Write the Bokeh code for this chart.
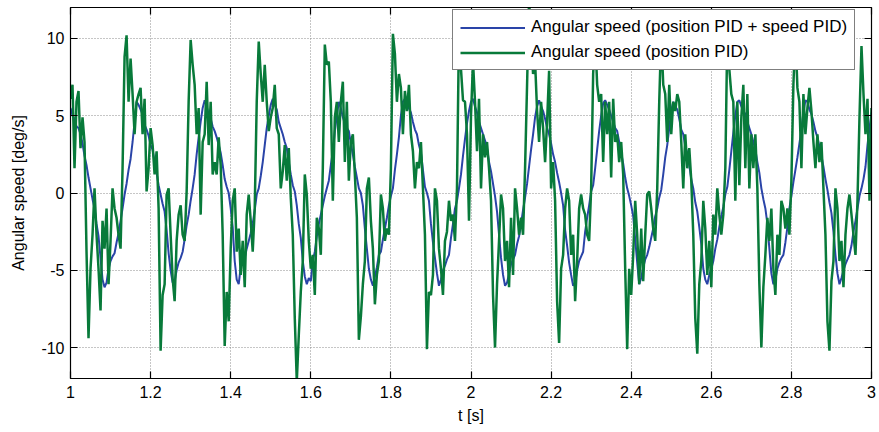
from bokeh.plotting import figure
from bokeh.models import (ColumnDataSource, FixedTicker, LinearAxis, Range1d,
                          Legend, LegendItem)
from bokeh.embed import file_html
from bokeh.resources import INLINE

# ---------------- data ----------------
t_start = 1.0
t_step = 0.005   # sampling step of both traces [s]

# Angular speed (position PID + speed PID) [deg/s], one row per oscillation
blue_speed = (
    [5.5, 5.0, 4.8, 4.3, 4.2, 3.8, 3.2, 2.4, 1.8, 1.0, 0.3, -0.4, -1.0, -2.0, -2.8, -4.2, -5.6, -6.1, -5.8, -4.9, -4.4, -4.1, -3.9, -3.2, -2.6, -1.8, -1.0]
    + [-0.1, 0.6, 1.5, 2.2, 3.3, 4.6, 5.9, 5.7, 5.4, 5.1, 4.4, 4.1, 3.7, 3.1, 2.8, 2.0, 1.3, 0.5, -0.1, -0.7, -1.2, -2.4, -3.9, -5.0, -5.8, -5.7, -5.0, -4.5, -4.2, -3.8, -3.0, -2.1, -1.4, -0.5]
    + [0.3, 1.2, 2.5, 3.6, 4.6, 5.5, 6.0, 5.6, 5.1, 4.8, 4.3, 4.0, 3.6, 3.1, 2.6, 1.8, 0.9, 0.4, 0.0, -1.0, -2.2, -4.4, -5.6, -5.9, -4.8, -4.0, -4.2, -3.6, -3.1, -2.6, -2.0, -1.1, -0.1]
    + [0.3, 1.1, 2.0, 3.1, 4.2, 5.0, 5.7, 6.1, 5.7, 5.4, 4.6, 4.2, 3.8, 3.3, 2.9, 2.0, 1.2, 0.5, 0.1, -0.8, -2.0, -2.9, -4.4, -5.4, -5.9, -5.5, -5.7, -4.4, -3.8, -2.8, -2.0, -1.4, -0.8, -0.2]
    + [0.3, 0.8, 1.8, 2.7, 4.0, 5.0, 5.9, 5.5, 4.9, 4.5, 4.2, 4.0, 3.2, 2.5, 1.7, 1.0, 0.3, 0.0, -0.8, -2.3, -3.6, -4.9, -5.6, -6.0, -5.4, -4.8, -4.0, -3.8, -3.0, -2.3, -1.6, -0.8, -0.2]
    + [0.3, 1.5, 2.5, 3.6, 5.0, 5.9, 6.1, 5.7, 5.5, 5.2, 4.6, 4.1, 3.8, 3.1, 2.6, 1.5, 0.4, 0.0, -0.5, -2.0, -3.2, -4.2, -5.2, -6.0, -5.6, -5.0, -4.7, -4.3, -4.0, -2.9, -2.0, -1.0, -0.5]
    + [0.3, 1.2, 2.4, 3.5, 4.5, 5.3, 5.9, 6.1, 5.6, 5.2, 4.6, 4.2, 3.8, 3.4, 2.9, 2.0, 1.4, 0.6, -0.2, -1.2, -2.7, -4.2, -5.3, -6.0, -5.8, -5.2, -4.6, -4.3, -4.0, -3.3, -2.8, -2.0, -1.1, -0.3]
    + [0.6, 1.7, 2.8, 3.8, 4.9, 5.6, 6.0, 5.6, 5.3, 4.8, 4.2, 3.8, 3.2, 2.5, 2.0, 1.3, 0.7, 0.0, -0.8, -2.4, -3.4, -4.5, -5.3, -6.0, -5.8, -5.0, -4.4, -4.1, -3.8, -2.5, -1.6, -0.8, 0.1]
    + [0.5, 1.6, 2.8, 4.0, 5.0, 5.8, 6.0, 5.7, 5.4, 5.0, 4.6, 4.2, 4.0, 3.3, 2.6, 1.9, 1.0, 0.3, -0.2, -0.8, -1.5, -3.0, -4.5, -5.9, -5.5, -4.8, -4.3, -4.0, -3.5, -2.9, -2.3, -1.5, -1.0, -0.3]
    + [0.2, 1.2, 2.3, 3.1, 4.2, 5.3, 5.9, 5.6, 5.4, 4.8, 4.1, 3.8, 3.0, 2.6, 1.8, 0.9, 0.3, -0.6, -1.2, -2.2, -3.3, -4.9, -5.6, -5.9, -5.3, -4.9, -4.4, -3.6, -3.0, -2.2, -1.5, -0.9, -0.1]
    + [0.4, 1.5, 2.7, 3.9, 5.0, 5.9, 6.0, 5.6, 5.3, 5.1, 4.6, 4.2, 3.8, 3.3, 2.8, 2.0, 1.3, 0.3, -0.4, -1.0, -2.0, -3.6, -5.2, -5.9, -5.6, -4.9, -4.5, -4.2, -4.0, -3.2, -2.2, -1.0, -0.2, 0.7]
    + [1.5, 2.3, 3.2, 4.1, 5.2, 6.0, 5.9, 5.4, 5.1, 4.6, 4.0, 3.6, 3.0, 2.4, 1.7, 0.9, 0.2, -0.6, -1.3, -2.5, -4.0, -5.2, -5.9, -5.5, -5.0, -4.6, -4.3, -4.0, -3.4, -2.5, -1.8, -1.0, -0.2]
    + [0.3, 0.9, 1.7, 3.1, 4.2, 5.2]
)

# Angular speed (position PID) [deg/s], one row per oscillation
green_speed = (
    [6.1, 7.0, 1.6, 5.9, 6.6, 2.9, 4.9, 3.3, -3.8, -9.4, -4.9, -2.7, 0.3, -2.7, -4.9, -7.6, -1.8, -3.6, -1.0, -5.9, -3.1, 0.3, -1.0, -1.6, -2.7, -3.6, 1.6]
    + [8.8, 10.2, 5.9, 8.7, 6.4, 3.8, 5.9, 6.4, 6.8, 3.8, 6.1, 0.1, 1.6, 4.2, 3.1, 1.2, 2.7, -1.0, -10.2, -6.6, -5.9, -0.1, 0.3, -2.7, -5.5, -7.0, -3.1, -1.4, -0.8, -2.7, -3.1, 0.1, 5.9, 9.9]
    + [8.3, 7.0, 3.8, 5.5, -1.4, 3.3, 3.8, 7.2, 3.1, 5.9, 1.2, 2.0, 1.2, 3.6, 1.8, -2.7, -9.9, -6.4, -8.3, -3.6, -0.5, 0.3, -3.8, -2.3, -5.3, -3.1, -6.1, -1.4, -0.1, -1.8, -3.8, -1.0, 5.9]
    + [9.8, 7.7, 5.9, 8.3, 5.9, 4.0, 4.9, 5.5, 7.0, 4.2, 3.8, 0.3, 1.4, 3.1, 0.8, 2.9, -0.3, -2.7, -8.1, -12.2, -9.2, -6.4, -4.4, 1.2, -0.1, -3.1, -4.9, -4.0, -6.6, -1.6, -2.3, -4.0, 1.6, 9.6]
    + [8.3, 8.5, 5.9, -0.5, 4.9, 5.9, 3.3, 5.9, 7.2, 2.0, 5.9, 0.8, 3.3, 3.8, 1.2, -1.6, -9.5, -8.0, -5.9, -4.4, 0.3, 1.0, -1.8, -3.6, -7.2, -5.3, -4.4, -0.1, -1.0, -3.1, -2.3, -2.7, 1.6]
    + [10.3, 9.0, 5.9, 7.7, 6.8, 3.8, 6.6, 5.3, 7.0, 3.8, 2.7, 0.3, 2.0, 1.6, 3.3, 0.3, -2.7, -10.1, -6.4, -6.6, -5.3, 0.3, -0.5, -3.6, -4.9, -6.6, -3.1, -2.5, -0.5, -1.8, -1.4, -3.1, 0.3]
    + [10.5, 8.0, 6.0, 5.9, 3.8, -1.8, 5.0, 8.5, 5.9, 2.7, 6.1, 0.3, 3.8, 2.3, 3.3, 1.6, -0.5, -6.6, -10.0, -5.9, -3.1, -0.1, -1.0, -4.4, -3.1, -6.1, -1.6, -5.3, 0.3, -1.0, -2.7, -1.6, -2.7, 1.6]
    + [7.0, 12.5, 10.0, 7.7, 8.5, 5.3, 3.3, 5.9, 4.2, 2.0, 4.6, 7.9, 0.3, 2.0, -0.5, -7.0, -9.7, -4.9, -4.0, -1.0, 0.3, -0.5, -4.0, -2.7, -7.0, -4.4, -1.0, -0.1, -1.0, -1.4, -2.7, -3.1, 0.3]
    + [7.7, 10.2, 7.0, 5.9, 6.4, 2.0, 5.9, 3.8, 5.9, 1.0, 6.1, 3.3, 3.8, 2.0, 3.3, 1.2, -4.9, -10.1, -4.9, -6.6, -4.0, -0.5, -2.7, -5.9, -2.3, -5.7, -2.7, -0.1, 0.1, -1.0, -2.3, -3.1, 0.3, 5.9]
    + [10.3, 7.0, 6.4, 3.3, 7.0, 3.8, 5.9, 5.3, 6.4, 5.9, 3.3, 0.3, 3.8, 1.6, 2.9, 0.8, -2.7, -8.1, -10.4, -5.9, -4.4, -0.5, -2.3, -5.3, -3.1, -6.1, -1.4, -2.7, 0.3, -1.4, -2.7, -1.4, 1.6]
    + [10.3, 8.0, 6.4, 5.9, -0.5, 5.9, 0.5, 4.9, 7.0, 1.6, 6.4, 0.3, 3.8, 1.6, 3.8, 0.3, -5.9, -10.0, -6.1, -4.0, -1.6, -3.1, -1.0, -4.9, -6.6, -2.7, -4.0, -0.5, -1.0, -2.3, -1.0, -2.7, 0.8, 7.0]
    + [10.4, 6.8, 5.9, 1.6, 6.4, 3.8, 5.5, 6.8, 5.3, 3.3, 1.6, 3.8, 2.0, 3.3, 0.3, -2.7, -8.3, -10.2, -5.7, -4.4, 0.3, -1.0, -4.4, -3.1, -6.1, -2.7, -1.0, -0.1, -1.4, -2.7, -4.0, -0.5, 4.9]
    + [9.5, 6.4, 3.8, 6.1, -0.5, 5.5]
)

x_ticks = [1.0, 1.2, 1.4, 1.6, 1.8, 2.0, 2.2, 2.4, 2.6, 2.8, 3.0]
x_tick_labels = ["1", "1.2", "1.4", "1.6", "1.8", "2", "2.2", "2.4", "2.6", "2.8", "3"]
y_ticks = [-10, -5, 0, 5, 10]
y_tick_labels = ["-10", "-5", "0", "5", "10"]

legend_labels = ["Angular speed (position PID + speed PID)",
                 "Angular speed (position PID)"]
# ---------------------------------------------------------------

t_blue = [round(t_start + t_step * i, 4) for i in range(len(blue_speed))]
t_green = [round(t_start + t_step * i, 4) for i in range(len(green_speed))]

src_blue = ColumnDataSource(dict(t=t_blue, w=blue_speed))
src_green = ColumnDataSource(dict(t=t_green, w=green_speed))

FONT = "Liberation Sans"
BLUE = "#2a44a8"
GREEN = "#087a3a"

p = figure(width=879, height=432, output_backend="svg", toolbar_location=None,
           x_range=Range1d(1, 3), y_range=Range1d(-12, 12),
           min_border_left=70, min_border_right=8, min_border_top=7,
           min_border_bottom=54, x_axis_label="t [s]",
           y_axis_label="Angular speed [deg/s]")
p.background_fill_color = "white"
p.border_fill_color = "white"
p.outline_line_color = "black"
p.outline_line_width = 1

r_blue = p.line("t", "w", source=src_blue, line_color=BLUE, line_width=2)
r_green = p.line("t", "w", source=src_green, line_color=GREEN, line_width=2.5)

def style_axis(ax, ticks, labels, show_labels=True):
    ax.ticker = FixedTicker(ticks=ticks)
    ax.major_tick_in = 7
    ax.major_tick_out = 0
    ax.minor_tick_in = 0
    ax.minor_tick_out = 0
    ax.axis_line_color = "black"
    ax.axis_line_width = 1.2
    ax.major_tick_line_color = "black"
    ax.major_tick_line_width = 1.2
    ax.major_label_text_font = FONT
    ax.axis_label_text_font = FONT
    ax.axis_label_text_font_style = "normal"
    ax.axis_label_text_color = "black"
    if show_labels:
        ax.major_label_overrides = {float(k): v for k, v in zip(ticks, labels)}
        ax.major_label_text_color = "black"
        ax.major_label_text_font_size = "16px"
        ax.axis_label_text_font_size = "16px"
    else:
        # frame-only axis: ticks drawn, no labels drawn
        ax.major_label_text_color = None
        ax.major_label_text_alpha = 0
        ax.major_label_standoff = 0
        ax.axis_label = None

xa = p.xaxis[0]
style_axis(xa, x_ticks, x_tick_labels)
xa.major_label_standoff = 7
xa.axis_label_standoff = 6

ya = p.yaxis[0]
style_axis(ya, y_ticks, y_tick_labels)
ya.major_label_standoff = 6
ya.axis_label_standoff = 11

top_ax = LinearAxis()
style_axis(top_ax, x_ticks, x_tick_labels, show_labels=False)
p.add_layout(top_ax, "above")
right_ax = LinearAxis()
style_axis(right_ax, y_ticks, y_tick_labels, show_labels=False)
p.add_layout(right_ax, "right")

for g in (p.xgrid[0], p.ygrid[0]):
    g.grid_line_color = "#8c8c8c"
    g.grid_line_dash = "1 2"
    g.grid_line_width = 1
p.xgrid[0].ticker = FixedTicker(ticks=x_ticks)
p.ygrid[0].ticker = FixedTicker(ticks=y_ticks)

legend = Legend(items=[LegendItem(label=legend_labels[0], renderers=[r_blue]),
                       LegendItem(label=legend_labels[1], renderers=[r_green])],
                location=(382, 308))
legend.label_text_font = FONT
legend.label_text_font_size = "17px"
legend.label_text_color = "black"
legend.glyph_width = 65
legend.glyph_height = 17
legend.label_height = 17
legend.label_standoff = 6
legend.spacing = 5
legend.padding = 7
legend.margin = 0
legend.border_line_color = "black"
legend.border_line_width = 1.5
legend.background_fill_color = "white"
legend.background_fill_alpha = 1.0
p.add_layout(legend, "center")

open("out.html", "w").write(file_html(p, INLINE))
